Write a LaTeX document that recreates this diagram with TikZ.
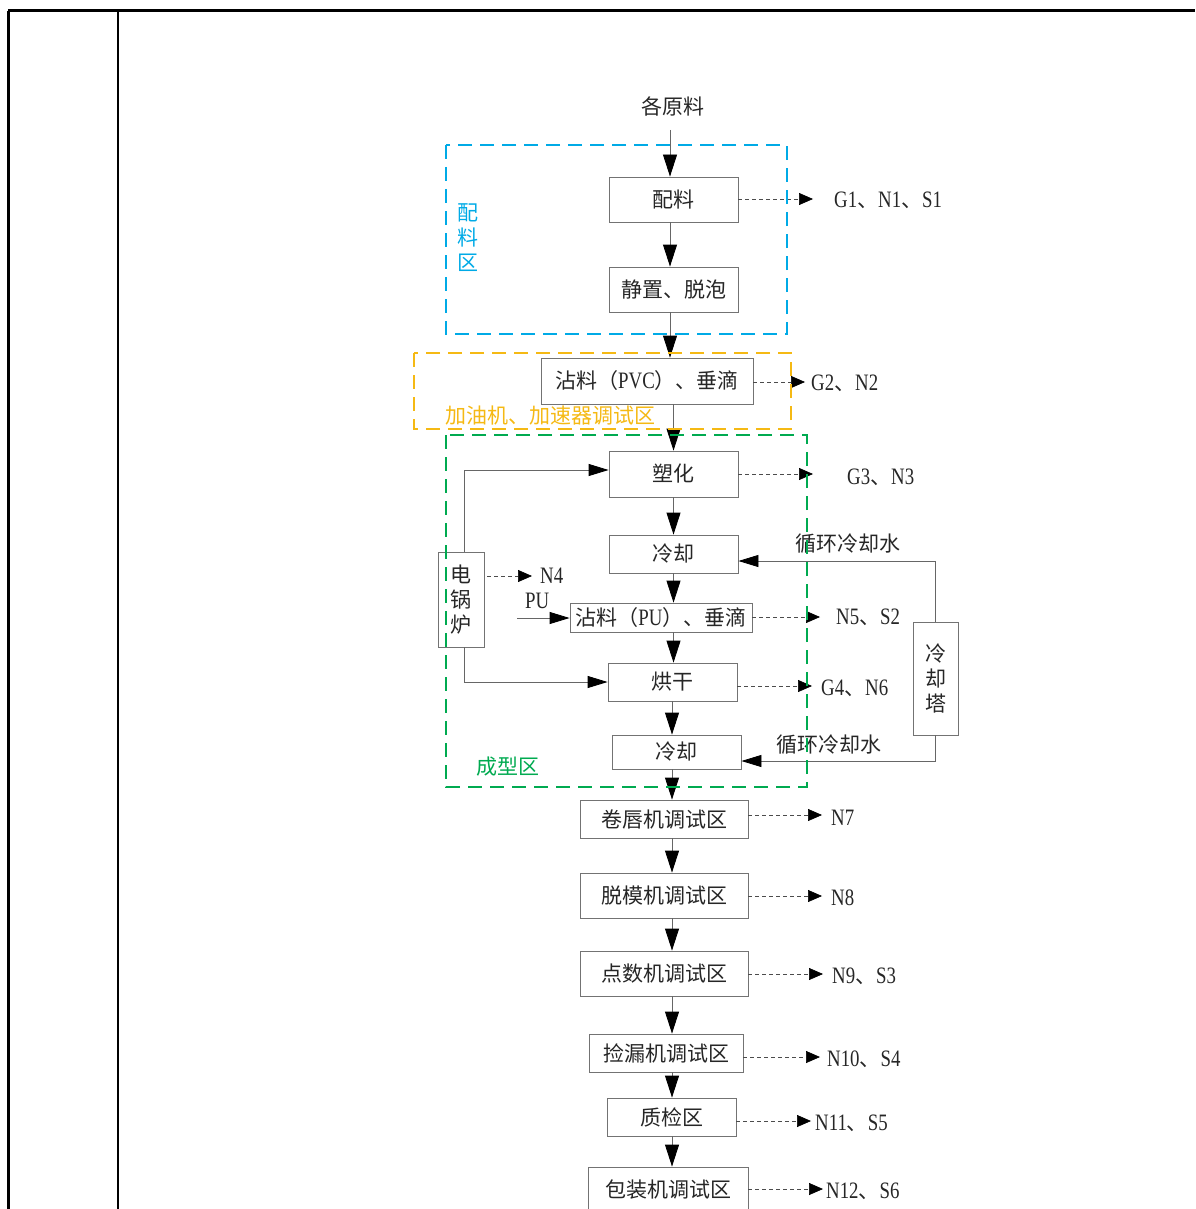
\documentclass[tikz,border=0pt]{standalone}
\usepackage{fontspec}
\setmainfont{Noto Sans CJK SC}
\newfontfamily\lat[FakeStretch=0.8,Scale=1.12]{Liberation Serif}
\usetikzlibrary{arrows.meta}
\newcommand\lt[1]{{\lat #1}}
\definecolor{zblue}{RGB}{0,170,230}
\definecolor{zorange}{RGB}{245,185,20}
\definecolor{zgreen}{RGB}{0,170,80}
\tikzset{
  txt/.style={font=\fontsize{21pt}{25pt}\selectfont, text=black!85, inner sep=0pt},
  box/.style={draw=black!55, line width=0.8pt, txt, anchor=center},
  arr/.style={draw=black!60, line width=0.8pt, -{Triangle[length=22pt,width=14pt,color=black]}},
  harr/.style={draw=black!60, line width=0.8pt, -{Triangle[length=20pt,width=12pt,color=black]}},
  darr/.style={draw=black!70, line width=0.7pt, dash pattern=on 4pt off 3pt, -{Triangle[length=14pt,width=12pt,color=black]}},
  zone/.style={line width=1.6pt, dash pattern=on 14pt off 8pt},
  lab/.style={txt, anchor=west},
}
\begin{document}
\begin{tikzpicture}[x=1pt,y=-1pt]
\clip (0,0) rectangle (1195,1209);
% frame
\draw[line width=3pt] (8,11) -- (1195,11);
\draw[line width=3pt] (8,11) -- (8,1209);
\draw[line width=1.5pt] (118,11) -- (118,1209);

% boxes
\node[txt] (yuan) at (673,106) {各原料};
\coordinate (src) at (670,130);
\node[box, minimum width=129pt, minimum height=45pt] (peiliao) at (673.5,199.5) {配料};
\node[box, minimum width=129pt, minimum height=45pt] (jingzhi) at (673.5,289.5) {静置、脱泡};
\node[box, minimum width=212pt, minimum height=46pt] (pvc) at (647,381) {沾料（\lt{PVC}）、垂滴};
\node[box, minimum width=129pt, minimum height=46pt] (suhua) at (673.5,474) {塑化};
\node[box, minimum width=129pt, minimum height=38pt] (lq1) at (673.5,554) {冷却};
\node[box, minimum width=182pt, minimum height=29pt] (pu) at (661,617.5) {沾料（\lt{PU}）、垂滴};
\node[box, minimum width=129pt, minimum height=38pt] (hg) at (672.5,682) {烘干};
\node[box, minimum width=129pt, minimum height=34pt] (lq2) at (676.5,752) {冷却};
\node[box, minimum width=168pt, minimum height=38pt] (juan) at (664,819) {卷唇机调试区};
\node[box, minimum width=168pt, minimum height=45pt] (tuomo) at (664,895.5) {脱模机调试区};
\node[box, minimum width=168pt, minimum height=45pt] (dianshu) at (664,973.5) {点数机调试区};
\node[box, minimum width=154pt, minimum height=38pt] (jianlou) at (666,1053) {捡漏机调试区};
\node[box, minimum width=129pt, minimum height=38pt] (zhijian) at (671.5,1117) {质检区};
\node[box, minimum width=160pt, minimum height=45pt] (baozhuang) at (668,1189.5) {包装机调试区};
\node[box, minimum width=46pt, minimum height=95pt, align=center] (boiler) at (461,599.5) {电\\锅\\炉};
\node[box, minimum width=45pt, minimum height=113pt, align=center] (tower) at (935.5,678.5) {冷\\却\\塔};

% main flow
\coordinate (ax) at (672,0);
\draw[arr] (src) -- (src |- peiliao.north);
\draw[arr] (peiliao.south -| src) -- (jingzhi.north -| src);
\draw[arr] (jingzhi.south -| src) -- (pvc.north -| src);
\draw[arr] (pvc.south -| suhua.north) -- (suhua.north);
\draw[arr] (suhua) -- (lq1);
\draw[arr] (lq1.south) -- (lq1.south |- pu.north);
\draw[arr] (lq1.south |- pu.south) -- (lq1.south |- hg.north);
\draw[arr] (hg.south -| ax) -- (lq2.north -| ax);
\draw[arr] (lq2.south -| ax) -- (juan.north -| ax);
\draw[arr] (juan.south -| ax) -- (tuomo.north -| ax);
\draw[arr] (tuomo.south -| ax) -- (dianshu.north -| ax);
\draw[arr] (dianshu.south -| ax) -- (jianlou.north -| ax);
\draw[arr] (jianlou.south -| ax) -- (zhijian.north -| ax);
\draw[arr] (zhijian.south -| ax) -- (baozhuang.north -| ax);

% boiler and cooling tower
\coordinate (bx) at (464,0);
\draw[harr] (boiler.north -| bx) |- ([yshift=4pt]suhua.west);
\draw[harr] (boiler.south -| bx) |- (hg.west);
\draw[harr] (tower.north) |- ([yshift=-7pt]lq1.east);
\draw[harr] (tower.south) |- ([yshift=-9pt]lq2.east);
\node[txt] (w1) at (848,544) {循环冷却水};
\node[txt] (w2) at (829,745) {循环冷却水};
\coordinate (pus) at (517,618);
\draw[harr] (pus) -- (pus -| pu.west);
\node[lab, font=\lat\fontsize{21pt}{25pt}\selectfont] (pul) at (525,601) {PU};
\coordinate (n4t) at (532,576);
\coordinate (n4s) at (487,576);
\draw[darr] (n4s) -- (n4t);
\node[lab] (n4) at (540,576) {\lt{N4}};

% emissions
\coordinate (t1) at (813,199);
\draw[darr] (t1 -| peiliao.east) -- (t1);
\node[lab] (l1) at (834,200) {\lt{G1}、\lt{N1}、\lt{S1}};
\coordinate (t2) at (805,382);
\draw[darr] (t2 -| pvc.east) -- (t2);
\node[lab] (l2) at (811,383) {\lt{G2}、\lt{N2}};
\coordinate (t3) at (813,474);
\draw[darr] (t3 -| suhua.east) -- (t3);
\node[lab] (l3) at (847,477) {\lt{G3}、\lt{N3}};
\coordinate (t4) at (820,617);
\draw[darr] (t4 -| pu.east) -- (t4);
\node[lab] (l4) at (836,617) {\lt{N5}、\lt{S2}};
\coordinate (t5) at (812,686);
\draw[darr] (t5 -| hg.east) -- (t5);
\node[lab] (l5) at (821,688) {\lt{G4}、\lt{N6}};
\coordinate (t6) at (822,815);
\draw[darr] (t6 -| juan.east) -- (t6);
\node[lab] (l6) at (831,818) {\lt{N7}};
\coordinate (t7) at (822,896);
\draw[darr] (t7 -| tuomo.east) -- (t7);
\node[lab] (l7) at (831,898) {\lt{N8}};
\coordinate (t8) at (823,974);
\draw[darr] (t8 -| dianshu.east) -- (t8);
\node[lab] (l8) at (832,976) {\lt{N9}、\lt{S3}};
\coordinate (t9) at (820,1057);
\draw[darr] (t9 -| jianlou.east) -- (t9);
\node[lab] (l9) at (827,1059) {\lt{N10}、\lt{S4}};
\coordinate (t10) at (811,1121);
\draw[darr] (t10 -| zhijian.east) -- (t10);
\node[lab] (l10) at (815,1123) {\lt{N11}、\lt{S5}};
\coordinate (t11) at (823,1189);
\draw[darr] (t11 -| baozhuang.east) -- (t11);
\node[lab] (l11) at (826,1191) {\lt{N12}、\lt{S6}};

% zones
\draw[zone, draw=zblue] (446,145) rectangle (787,334);
\node[txt, text=zblue, align=center] (zl1) at (468,238) {配\\料\\区};
\draw[zone, draw=zorange] (414,353) rectangle (791,429);
\node[txt, text=zorange] (zl2) at (550,416) {加油机、加速器调试区};
\draw[zone, draw=zgreen] (446,435) rectangle (807,787);
\node[txt, text=zgreen] (zl3) at (508,767) {成型区};
\end{tikzpicture}
\end{document}
